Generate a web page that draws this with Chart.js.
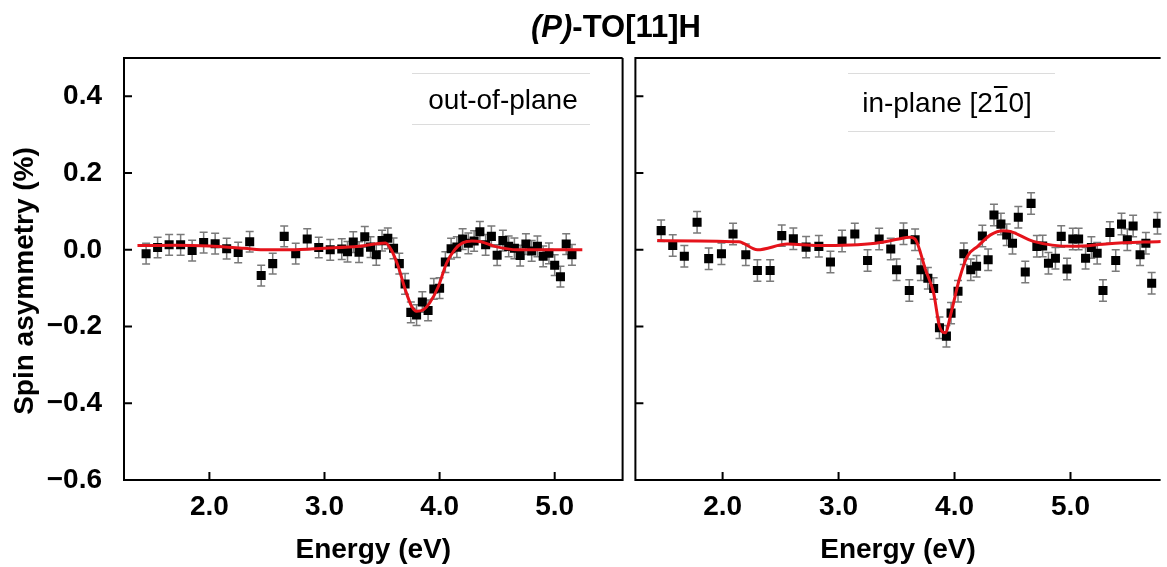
<!DOCTYPE html>
<html>
<head>
<meta charset="utf-8">
<script src="https://cdn.jsdelivr.net/npm/chart.js@4.4.1/dist/chart.umd.min.js"></script>
<style>
  body { margin: 0; background: #fff; }
  #wrap { position: relative; width: 1167px; height: 567px; overflow: hidden; }
  canvas { position: absolute; top: 0; }
  #leftChart { left: 0; }
  #rightChart { left: 629px; }
  #title {
    position: absolute; top: 8px; left: 506px; width: 220px; text-align: center;
    font: bold 31px "Liberation Sans", Arial, sans-serif; line-height: 38px;
  }
</style>
</head>
<body>
<div id="wrap">
  <canvas id="leftChart" width="629" height="567"></canvas>
  <canvas id="rightChart" width="538" height="567"></canvas>
  <div id="title"><i>(P)</i>-TO[11]H</div>
</div>
<script>
// tick labels
const Y_TICKS = [-0.6, -0.4, -0.2, 0.0, 0.2, 0.4];
const X_TICKS = [2.0, 3.0, 4.0, 5.0];

// out-of-plane measurement
const LEFT_E = [1.45, 1.55, 1.65, 1.75, 1.85, 1.95, 2.05, 2.15, 2.25, 2.35, 2.45, 2.55, 2.65, 2.75, 2.85, 2.95, 3.05,
  3.15, 3.20, 3.25, 3.30, 3.35, 3.40, 3.45, 3.50, 3.55, 3.60, 3.65, 3.70, 3.75, 3.80, 3.85, 3.90, 3.95, 4.00,
  4.05, 4.10, 4.15, 4.20, 4.25, 4.30, 4.35, 4.40, 4.45, 4.50, 4.55, 4.60, 4.65, 4.70, 4.75, 4.80, 4.85, 4.90,
  4.95, 5.00, 5.05, 5.10, 5.15];
const LEFT_V = [-0.010, 0.006, 0.013, 0.013, -0.002, 0.019, 0.016, 0.003, -0.007, 0.021, -0.067, -0.036, 0.035, -0.010, 0.028, 0.006, 0.000,
  0.002, -0.005, 0.020, -0.006, 0.034, 0.007, -0.013, 0.024, 0.030, 0.004, -0.036, -0.089, -0.163, -0.170, -0.136, -0.158, -0.102, -0.100,
  -0.032, 0.003, 0.007, 0.028, 0.017, 0.023, 0.047, 0.013, 0.035, -0.014, 0.024, 0.009, 0.004, -0.015, 0.015, -0.003, 0.009, -0.017,
  -0.009, -0.040, -0.070, 0.015, -0.013];
const LEFT_ERR = 0.027;
const LEFT_FIT_E = [1.375, 1.7, 2.0, 2.3, 2.5, 2.7, 3.0, 3.3, 3.53, 3.58, 3.64, 3.70, 3.757, 3.80, 3.86, 3.915, 3.99, 4.06, 4.13, 4.20, 4.28, 4.36, 4.48, 4.68, 5.24];
const LEFT_FIT_V = [0.011, 0.012, 0.010, 0.004, 0.0, 0.0, 0.004, 0.009, 0.018, 0.0, -0.043, -0.102, -0.147, -0.160, -0.156, -0.138, -0.095, -0.035, 0.0, 0.018, 0.023, 0.021, 0.009, 0.0, 0.0];

// in-plane measurement
const RIGHT_E = [1.47, 1.57, 1.67, 1.78, 1.88, 1.99, 2.09, 2.20, 2.30, 2.41, 2.51, 2.61, 2.72, 2.83, 2.93, 3.03, 3.14, 3.25, 3.35, 3.45,
  3.50, 3.56, 3.61, 3.66, 3.71, 3.77, 3.82, 3.87, 3.93, 3.97, 4.03, 4.08, 4.14, 4.19, 4.24, 4.29, 4.34, 4.40, 4.45, 4.50, 4.55, 4.61,
  4.66, 4.71, 4.76, 4.81, 4.87, 4.92, 4.97, 5.02, 5.07, 5.13, 5.18, 5.23, 5.28, 5.34, 5.39, 5.44, 5.49, 5.54, 5.60, 5.65, 5.70, 5.75];
const RIGHT_V = [0.050, 0.011, -0.017, 0.072, -0.023, -0.010, 0.041, -0.013, -0.054, -0.054, 0.037, 0.029, 0.007, 0.009, -0.032, 0.023, 0.041, -0.028, 0.028, 0.002,
  -0.052, 0.042, -0.106, 0.026, -0.052, -0.074, -0.101, -0.203, -0.225, -0.165, -0.108, -0.010, -0.052, -0.043, 0.036, -0.026, 0.091, 0.067, 0.039, 0.017, 0.085, -0.058,
  0.121, 0.009, 0.010, -0.035, -0.022, 0.035, -0.050, 0.028, 0.028, -0.022, 0.006, -0.009, -0.106, 0.045, -0.028, 0.067, 0.026, 0.062, -0.013, 0.017, -0.087, 0.069];
const RIGHT_ERR = 0.028;
const RIGHT_FIT_E = [1.436, 2.14, 2.30, 2.56, 2.82, 3.32, 3.52, 3.61, 3.66, 3.75, 3.82, 3.87, 3.92, 3.97, 4.04, 4.11, 4.20, 4.31, 4.42, 4.48, 4.68, 5.02, 5.33, 5.78];
const RIGHT_FIT_V = [0.024, 0.021, 0.0, 0.015, 0.011, 0.017, 0.028, 0.033, 0.028, -0.052, -0.113, -0.199, -0.216, -0.165, -0.078, -0.017, 0.009, 0.039, 0.050, 0.048, 0.022, 0.009, 0.016, 0.022];

const FONT = '"Liberation Sans", Arial, sans-serif';
Chart.defaults.font.family = FONT;
Chart.defaults.color = "#000";

function toPoints(xs, ys) {
  return xs.map((x, i) => ({ x: x, y: ys[i] }));
}

function fmtTick(v) {
  return v.toFixed(1).replace("-", "\u2212");
}

// error bars under the squares
const errorBars = {
  id: "errorBars",
  beforeDatasetsDraw(chart) {
    const ctx = chart.ctx;
    const xs = chart.scales.x;
    const ys = chart.scales.y;
    ctx.save();
    ctx.strokeStyle = "#7a7a7a";
    ctx.lineWidth = 1.5;
    chart.data.datasets.forEach((ds) => {
      if (!ds.err) return;
      ds.data.forEach((p) => {
        const px = xs.getPixelForValue(p.x);
        const top = ys.getPixelForValue(p.y + ds.err);
        const bot = ys.getPixelForValue(p.y - ds.err);
        ctx.beginPath();
        ctx.moveTo(px, top);
        ctx.lineTo(px, bot);
        ctx.moveTo(px - 4, top);
        ctx.lineTo(px + 4, top);
        ctx.moveTo(px - 4, bot);
        ctx.lineTo(px + 4, bot);
        ctx.stroke();
      });
    });
    ctx.restore();
  },
};

// frame, inward ticks and the y title
const frame = {
  id: "frame",
  afterDraw(chart, args, opts) {
    const ctx = chart.ctx;
    const a = chart.chartArea;
    const xs = chart.scales.x;
    const ys = chart.scales.y;
    ctx.save();
    ctx.strokeStyle = "#000";
    ctx.lineWidth = 2;
    ctx.beginPath();
    ctx.moveTo(a.right, a.top);
    ctx.lineTo(a.left, a.top);
    ctx.lineTo(a.left, a.bottom);
    ctx.lineTo(a.right, a.bottom);
    if (opts.rightSide) ctx.lineTo(a.right, a.top);
    ctx.stroke();
    ctx.beginPath();
    X_TICKS.forEach((v) => {
      const px = xs.getPixelForValue(v);
      ctx.moveTo(px, a.bottom);
      ctx.lineTo(px, a.bottom - 8);
    });
    Y_TICKS.forEach((v) => {
      const py = ys.getPixelForValue(v);
      ctx.moveTo(a.left, py);
      ctx.lineTo(a.left + 8, py);
    });
    ctx.stroke();
    if (opts.yTitle) {
      ctx.translate(25, 281);
      ctx.rotate(-Math.PI / 2);
      ctx.font = "bold 28px " + FONT;
      ctx.fillStyle = "#000";
      ctx.textAlign = "center";
      ctx.textBaseline = "middle";
      ctx.fillText(opts.yTitle, 0, 0);
    }
    ctx.restore();
  },
};

// boxed panel label
const panelLabel = {
  id: "panelLabel",
  afterDraw(chart, args, opts) {
    const ctx = chart.ctx;
    ctx.save();
    ctx.strokeStyle = "#dcdcdc";
    ctx.lineWidth = 1;
    ctx.beginPath();
    ctx.moveTo(opts.box[0], opts.box[1] + 0.5);
    ctx.lineTo(opts.box[2], opts.box[1] + 0.5);
    ctx.moveTo(opts.box[0], opts.box[3] + 0.5);
    ctx.lineTo(opts.box[2], opts.box[3] + 0.5);
    ctx.stroke();
    ctx.font = "28px " + FONT;
    ctx.fillStyle = "#000";
    ctx.textBaseline = "middle";
    ctx.textAlign = "left";
    const widths = opts.parts.map((t) => ctx.measureText(t).width);
    let x = opts.cx - widths.reduce((s, w) => s + w, 0) / 2;
    opts.parts.forEach((t, i) => {
      ctx.fillText(t, x, opts.cy);
      if (opts.bar === i) {
        ctx.lineWidth = 2;
        ctx.strokeStyle = "#000";
        ctx.beginPath();
        ctx.moveTo(x + 1, opts.cy - 17);
        ctx.lineTo(x + widths[i] - 1, opts.cy - 17);
        ctx.stroke();
      }
      x += widths[i];
    });
    ctx.restore();
  },
};

function makePanel(canvasId, cfg) {
  const ctx = document.getElementById(canvasId).getContext("2d");
  return new Chart(ctx, {
    type: "scatter",
    data: {
      datasets: [
        {
          label: "fit",
          data: toPoints(cfg.fitE, cfg.fitV),
          showLine: true,
          borderColor: "#e5131b",
          borderWidth: 3,
          pointRadius: 0,
          cubicInterpolationMode: "monotone",
        },
        {
          label: "data",
          data: toPoints(cfg.e, cfg.v),
          err: cfg.err,
          pointStyle: "rect",
          pointRadius: 6.4,
          borderWidth: 0,
          backgroundColor: "#000",
          borderColor: "#000",
        },
      ],
    },
    options: {
      responsive: false,
      animation: false,
      layout: { padding: { top: 58, right: cfg.padRight, left: 0, bottom: 0 } },
      scales: {
        x: {
          type: "linear",
          min: cfg.xMin,
          max: cfg.xMax,
          grid: { display: false },
          border: { display: false },
          afterBuildTicks: (scale) => {
            scale.ticks = X_TICKS.map((v) => ({ value: v }));
          },
          afterFit: (scale) => {
            scale.height = 87;
          },
          ticks: {
            maxRotation: 0,
            padding: 2,
            font: { size: 28, weight: "bold" },
            callback: (v) => fmtTick(v),
          },
          title: {
            display: true,
            text: "Energy (eV)",
            font: { size: 28, weight: "bold" },
            padding: { top: 0, bottom: 0 },
          },
        },
        y: {
          type: "linear",
          min: -0.6,
          max: 0.5,
          grid: { display: false },
          border: { display: false },
          afterBuildTicks: (scale) => {
            scale.ticks = Y_TICKS.map((v) => ({ value: v }));
          },
          afterFit: (scale) => {
            scale.width = cfg.yWidth;
          },
          ticks: {
            display: cfg.yLabels,
            padding: 14,
            font: { size: 28, weight: "bold" },
            callback: (v) => fmtTick(v),
          },
        },
      },
      plugins: {
        legend: { display: false },
        tooltip: { enabled: false },
        frame: { rightSide: cfg.rightSide, yTitle: cfg.yTitle },
        panelLabel: cfg.label,
      },
    },
    plugins: [errorBars, frame, panelLabel],
  });
}

makePanel("leftChart", {
  e: LEFT_E, v: LEFT_V, err: LEFT_ERR,
  fitE: LEFT_FIT_E, fitV: LEFT_FIT_V,
  xMin: 1.258, xMax: 5.59,
  padRight: 3, yWidth: 124, yLabels: true, rightSide: true,
  yTitle: "Spin asymmetry (%)",
  label: { parts: ["out-of-plane"], cx: 503, cy: 101, box: [412, 73, 590, 124], bar: -1 },
});

makePanel("rightChart", {
  e: RIGHT_E, v: RIGHT_V, err: RIGHT_ERR,
  fitE: RIGHT_FIT_E, fitV: RIGHT_FIT_V,
  xMin: 1.248, xMax: 5.777,
  padRight: 0, yWidth: 2, yLabels: false, rightSide: false,
  yTitle: "",
  label: { parts: ["in-plane [2", "1", "0]"], cx: 318, cy: 104, box: [219, 73, 426, 131], bar: 1 },
});
</script>
</body>
</html>
